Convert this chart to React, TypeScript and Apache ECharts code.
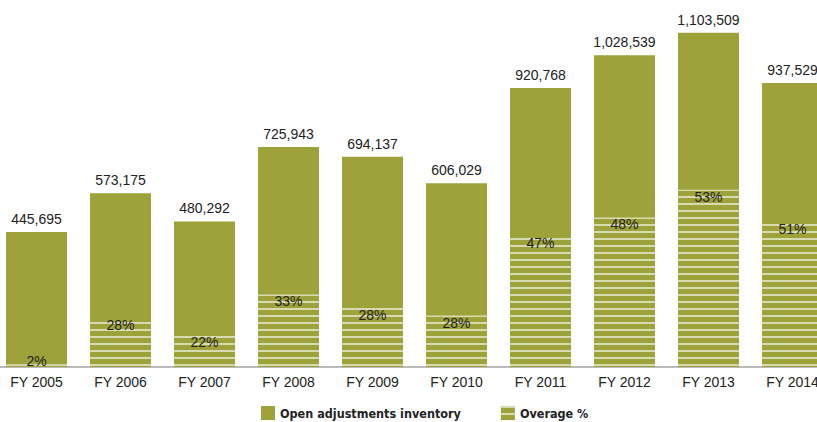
import React, { useEffect, useRef } from "react";
import * as echarts from "echarts";

const categories = ["FY 2005", "FY 2006", "FY 2007", "FY 2008", "FY 2009", "FY 2010", "FY 2011", "FY 2012", "FY 2013", "FY 2014"];
const inventory = [445695, 573175, 480292, 725943, 694137, 606029, 920768, 1028539, 1103509, 937529];
const overagePct = [2, 28, 22, 33, 28, 28, 47, 48, 53, 51];

const OLIVE = "#9da33a";
const FONT = "'Liberation Sans', Arial, sans-serif";

export default function App() {
  const ref = useRef<HTMLDivElement>(null);
  useEffect(() => {
    if (!ref.current) return;
    const chart = echarts.init(ref.current, null, { renderer: "svg" });
    const overage = inventory.map((v, i) => {
      const item: any = { value: (v * overagePct[i]) / 100, pct: overagePct[i] };
      if (overagePct[i] < 5) item.label = { position: "top", distance: -4 };
      return item;
    });
    chart.setOption({
      animation: false,
      grid: { left: -5.5, right: -17.5, top: 3.4, bottom: 55, containLabel: false, outerBoundsMode: "none" },
      legend: {
        top: 401,
        left: 256,
        icon: "rect",
        itemWidth: 14,
        itemHeight: 14,
        itemGap: 40,
        itemStyle: { borderWidth: 0 },
        data: ["Open adjustments inventory", "Overage %"],
        textStyle: { fontFamily: "'DejaVu Sans Condensed', 'Liberation Sans', Arial, sans-serif", fontSize: 12.5, fontWeight: "bold", color: "#222", lineHeight: 14 },
      },
      xAxis: {
        type: "category",
        data: categories,
        axisTick: { show: false },
        axisLine: { lineStyle: { color: "#bbbbbb", width: 2 } },
        axisLabel: { fontFamily: FONT, fontSize: 14, color: "#222", margin: 8, interval: 0 },
      },
      yAxis: { type: "value", min: 0, max: 1200000, show: false, splitLine: { show: false } },
      series: [
        {
          name: "Open adjustments inventory",
          type: "bar",
          barWidth: 61,
          data: inventory,
          itemStyle: { color: OLIVE },
          label: {
            show: true,
            position: "top",
            distance: 6,
            fontFamily: FONT,
            fontSize: 14,
            color: "#222",
            formatter: (p: any) => Number(p.value).toLocaleString("en-US"),
          },
        },
        {
          name: "Overage %",
          type: "bar",
          barWidth: 61,
          barGap: "-100%",
          data: overage,
          itemStyle: {
            color: OLIVE,
            decal: {
              symbol: "rect",
              symbolSize: 1,
              dashArrayX: [1, 0],
              dashArrayY: [1.5, 4.5],
              rotation: 0,
              color: "rgba(255,255,255,0.6)",
            },
          },
          label: {
            show: true,
            position: "insideTop",
            distance: 0,
            fontFamily: FONT,
            fontSize: 14,
            color: "#222",
            formatter: (p: any) => p.data.pct + "%",
          },
        },
      ],
    });
    return () => chart.dispose();
  }, []);
  return <div ref={ref} style={{ width: 817, height: 422, position: "absolute", left: 0, top: 0 }} />;
}
